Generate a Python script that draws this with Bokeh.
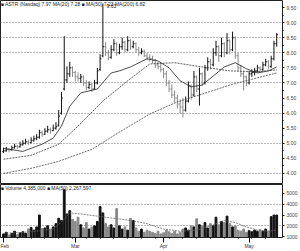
from bokeh.plotting import figure
from bokeh.layouts import column
from bokeh.models import Range1d, FixedTicker, Label, ColumnDataSource
from bokeh.embed import file_html
from bokeh.resources import INLINE

# ---------------- data ----------------
opens = [4.72,4.75,4.80,4.78,4.85,4.90,4.88,4.95,5.00,5.05,
         5.02,5.10,5.15,5.20,5.35,5.30,5.40,5.45,5.42,5.50,
         5.60,6.00,6.80,7.10,7.30,7.50,7.35,7.20,7.15,7.20,
         7.00,6.85,6.95,6.80,7.00,7.45,7.90,8.20,8.00,7.85,
         8.10,8.30,8.00,8.20,8.35,8.10,8.40,8.20,8.30,8.10,
         8.00,8.05,7.90,7.85,7.80,7.75,7.60,7.55,7.45,7.30,
         7.00,6.80,6.60,6.50,6.30,6.20,6.10,6.40,6.90,6.60,
         7.20,6.80,7.30,7.00,7.50,7.70,7.60,8.00,8.20,7.90,
         8.30,8.00,8.40,8.10,8.50,7.90,7.50,7.30,7.20,7.00,
         7.30,7.35,7.40,7.50,7.45,7.60,7.70,7.55,7.80,8.30]
highs = [4.85,4.88,4.84,4.92,4.98,4.95,5.05,5.10,5.15,5.12,
         5.20,5.25,5.30,5.45,5.42,5.50,5.58,5.52,5.62,5.70,
         6.10,6.70,8.55,7.55,7.70,7.55,7.40,7.35,7.30,7.25,
         7.10,7.05,7.00,7.10,7.50,7.95,9.63,8.35,8.10,8.25,
         8.45,8.35,8.30,8.50,8.40,8.55,8.45,8.40,8.35,8.20,
         8.15,8.10,8.00,7.95,7.90,7.80,7.70,7.65,7.50,7.40,
         7.10,6.95,6.75,6.60,6.45,6.50,6.55,7.05,6.95,7.40,
         7.25,7.50,7.35,7.60,7.85,7.80,8.15,8.40,8.25,8.50,
         8.35,8.65,8.45,8.70,8.55,8.00,7.60,7.40,7.25,7.40,
         7.45,7.50,7.60,7.55,7.70,7.80,7.75,7.90,8.40,8.65]
lows = [4.68,4.72,4.70,4.76,4.82,4.80,4.86,4.92,4.96,4.94,
        5.00,5.05,5.10,5.15,5.22,5.28,5.35,5.32,5.40,5.45,
        5.55,5.95,6.75,7.00,7.20,7.20,7.05,7.05,7.00,6.90,
        6.75,6.80,6.70,6.78,6.95,7.40,7.85,7.90,7.75,7.80,
        8.05,7.90,7.95,8.10,8.00,8.05,8.10,8.15,8.00,7.90,
        7.95,7.85,7.75,7.70,7.65,7.50,7.45,7.35,7.15,6.90,
        6.70,6.50,6.35,6.15,6.00,5.85,6.05,6.35,6.45,6.55,
        6.70,6.25,6.90,6.95,7.40,7.45,7.55,7.90,7.70,7.85,
        7.85,7.95,7.95,8.05,7.80,7.40,7.20,6.75,6.90,6.95,
        7.20,7.25,7.35,7.35,7.40,7.55,7.45,7.50,7.75,8.20]
closes = [4.75,4.80,4.78,4.85,4.90,4.88,4.95,5.00,5.05,5.02,
          5.10,5.15,5.20,5.35,5.30,5.40,5.45,5.42,5.50,5.55,
          5.90,6.50,7.10,7.30,7.50,7.35,7.20,7.15,7.20,7.00,
          6.85,6.95,6.80,7.00,7.40,7.80,8.20,8.00,7.85,8.10,
          8.30,8.00,8.20,8.35,8.10,8.40,8.20,8.30,8.10,8.00,
          8.05,7.90,7.85,7.80,7.75,7.60,7.55,7.45,7.30,7.00,
          6.80,6.60,6.50,6.30,6.20,6.10,6.40,6.90,6.60,7.20,
          6.80,7.30,7.00,7.50,7.70,7.60,8.00,8.20,7.90,8.30,
          8.00,8.40,8.10,8.50,7.90,7.50,7.30,7.20,7.00,7.30,
          7.35,7.40,7.50,7.45,7.60,7.70,7.55,7.80,8.30,8.60]
volume = [1250,1400,1150,1300,1500,1200,1350,1450,1300,
          1700,1850,1600,1900,3000,1750,1800,2000,1700,1900,
          2200,2700,2500,5350,3100,3400,2600,2400,2800,
          2100,1800,2300,1700,1900,2000,2400,
          3800,3200,2200,1900,2100,1800,
          3600,2000,1700,1900,1600,2700,
          2500,1800,1500,1700,1400,1600,1500,
          1400,1300,1500,1250,1350,1600,1450,1300,1500,1250,1400,1700,
          1800,1600,2000,1900,2650,
          2100,2000,2300,1800,2200,2000,
          2800,2100,2400,2300,
          2900,2200,1900,2000,
          1600,1500,1700,1400,1550,1450,1600,1500,1650,1500,
          1700,1500,2850,3000,3000]

ma_short_x = [0, 7, 14, 18, 21, 24, 28, 34, 39, 42, 46, 52, 56, 60, 64, 68, 72, 76, 80, 84, 88, 92, 96, 99]
ma_short_y = [4.83,4.73,4.97,5.17,5.57,6.23,6.67,6.80,7.33,7.40,7.53,7.80,7.73,7.50,7.07,6.87,6.93,7.23,7.53,7.67,7.47,7.33,7.40,7.53]
ma_mid_x = [0, 10, 20, 27, 36, 45, 53, 62, 72, 82, 92, 99]
ma_mid_y = [4.47,4.60,4.97,5.57,6.40,7.07,7.63,7.67,7.53,7.40,7.37,7.43]
ma_long_x = [0, 10, 20, 32, 42, 53, 63, 72, 82, 92, 99]
ma_long_y = [4.00,4.17,4.40,4.80,5.37,5.97,6.37,6.63,6.93,7.17,7.33]
vol_ma_x = [0, 10, 18, 22, 24, 28, 34, 40, 46, 52, 58, 64, 70, 76, 80, 84, 88, 92, 96, 99]
vol_ma_y = [1300,1450,1700,2600,3200,3100,2900,2700,2500,2200,1700,1500,1600,2100,2500,2300,1900,1600,1500,1600]

price_ticks = [4.0,4.5,5.0,5.5,6.0,6.5,7.0,7.5,8.0,8.5,9.0,9.5]
price_grid = [4.0,5.0,6.0,7.0,8.0,8.5,9.0]
vol_ticks = [1000,2000,3000,4000,5000]
vol_grid = [2000,4000]
month_pos = [0, 26, 58, 89]
month_lbl = ["Feb", "Mar", "Apr", "May"]

price_title = "\u25a0 ASTR (Nasdaq) 7.97  MA(20) 7.28 \u25a0 MA(50) 7.23  MA(200) 6.82"
vol_title = "\u25a0 Volume 4,385,000 \u25a0 MA(50) 2,267,597"

# ---------------- build ----------------
N = len(closes)
idx = list(range(N))
col = ["#111111" if c >= o else "#8a8a8a" for o, c in zip(opens, closes)]
src = ColumnDataSource(dict(x=idx, xl=[i - 0.45 for i in idx], xr=[i + 0.45 for i in idx],
                            o=opens, h=highs, l=lows, c=closes, v=volume, col=col))

FONT = "Liberation Sans"
xr = Range1d(-1.1, 101.1)

p1 = figure(width=300, height=184, output_backend="svg", toolbar_location=None,
            x_range=xr, y_range=Range1d(3.633, 9.733), y_axis_location="right",
            min_border_left=0, min_border_right=18, min_border_top=0, min_border_bottom=0)
p1.xaxis.visible = False
p1.xgrid.visible = False
p1.ygrid.ticker = FixedTicker(ticks=price_grid)
p1.ygrid.grid_line_dash = "1 2"
p1.ygrid.grid_line_color = "#777777"
p1.outline_line_color = "#222222"
ya = p1.yaxis[0]
ya.ticker = FixedTicker(ticks=price_ticks, minor_ticks=[t + 0.25 for t in price_ticks])
ya.major_label_overrides = {t: f"{t:.2f}" for t in price_ticks}
ya.major_label_text_font = FONT
ya.major_label_text_font_size = "5px"
ya.major_label_text_color = "#444444"
ya.major_tick_out = 2
ya.major_tick_in = 0
ya.minor_tick_out = 1
ya.minor_tick_in = 0
ya.major_label_standoff = 2
ya.axis_line_color = None

p1.segment(x0="x", y0="l", x1="x", y1="h", color="col", line_width=1, source=src)
p1.segment(x0="xl", y0="o", x1="x", y1="o", color="col", line_width=1, source=src)
p1.segment(x0="x", y0="c", x1="xr", y1="c", color="col", line_width=1, source=src)
p1.line(ma_short_x, ma_short_y, color="#222222", line_width=0.8)
p1.line(ma_mid_x, ma_mid_y, color="#333333", line_width=0.8, line_dash="2 1")
p1.line(ma_long_x, ma_long_y, color="#444444", line_width=0.8, line_dash="2 1")

p1.add_layout(Label(x=-1.0, y=9.72, text=price_title, text_font=FONT, text_font_size="5px",
                    text_baseline="top", text_color="#222222"))
p1.add_layout(Label(x=37.3, y=9.62, text="9.63", text_font=FONT, text_font_size="5px",
                    text_baseline="top", text_color="#222222"))

p2 = figure(width=300, height=67, output_backend="svg", toolbar_location=None,
            x_range=xr, y_range=Range1d(917, 5833), y_axis_location="right",
            min_border_left=0, min_border_right=18, min_border_top=0, min_border_bottom=6)
p2.xgrid.visible = False
p2.ygrid.ticker = FixedTicker(ticks=vol_grid)
p2.ygrid.grid_line_dash = "1 2"
p2.ygrid.grid_line_color = "#777777"
p2.outline_line_color = "#222222"
va = p2.yaxis[0]
va.ticker = FixedTicker(ticks=vol_ticks)
va.major_label_text_font = FONT
va.major_label_text_font_size = "5px"
va.major_label_text_color = "#444444"
va.major_tick_out = 2
va.major_tick_in = 0
va.major_label_standoff = 2
va.axis_line_color = None
xa = p2.xaxis[0]
xa.ticker = FixedTicker(ticks=month_pos, minor_ticks=list(range(0, 100, 5)))
xa.major_label_overrides = {p: l for p, l in zip(month_pos, month_lbl)}
xa.major_label_text_font = FONT
xa.major_label_text_font_size = "5px"
xa.major_label_text_align = "left"
xa.major_label_text_color = "#333333"
xa.major_tick_out = 5
xa.major_tick_in = 0
xa.minor_tick_out = 1
xa.minor_tick_in = 0
xa.major_label_standoff = 0
xa.axis_line_color = "#222222"

p2.vbar(x="x", top="v", bottom=0, width=0.65, color="col", source=src)
p2.line(vol_ma_x, vol_ma_y, color="#666666", line_width=0.8, line_dash="2 1")
p2.add_layout(Label(x=-1.0, y=5820, text=vol_title, text_font=FONT, text_font_size="5px",
                    text_baseline="top", text_color="#222222"))

layout = column(p1, p2, spacing=0)
open("out.html", "w").write(file_html(layout, INLINE))
